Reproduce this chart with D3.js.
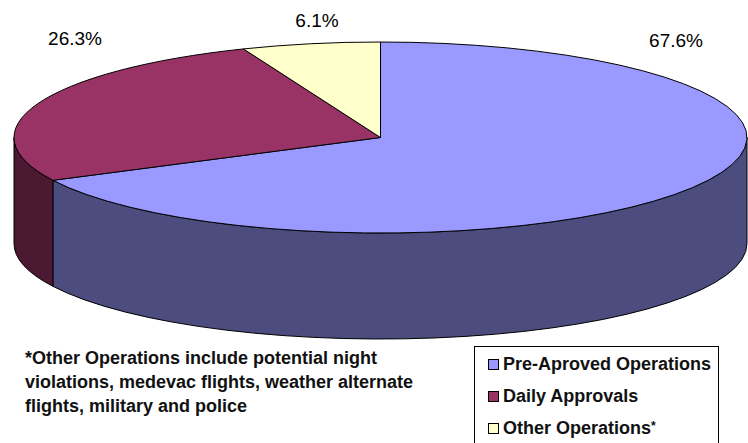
<!DOCTYPE html>
<html>
<head>
<meta charset="utf-8">
<script src="https://cdn.jsdelivr.net/npm/d3@7"></script>
<style>
  body { margin: 0; background: #fff; }
  svg { display: block; font-family: "Liberation Sans", Arial, sans-serif; }
</style>
</head>
<body>
<svg id="pie" width="748" height="443"></svg>
<script>
// data
const categories = ["Pre-Aproved Operations", "Daily Approvals", "Other Operations*"];
const shares = [67.6, 26.3, 6.1];
const topColors = ["#9999FF", "#993366", "#FFFFCC"];
const sideColors = ["#4C4C7F", "#4C1933", "#808066"];
const labelPos = [[676, 47], [75, 45], [317, 27]];
const footnote = [
  "*Other Operations include potential night",
  "violations, medevac flights, weather alternate",
  "flights, military and police"
];

const svg = d3.select("#pie");
const cx = 380.5, cy = 137.5, rx = 366.5, ry = 95.5, depth = 106;

const pie = d3.pie().sort(null).value(d => d)(shares);

const pt = (a, dy = 0) => [cx + rx * Math.sin(a), cy - ry * Math.cos(a) + dy];

// side walls (front half only)
const g = svg.append("g");
pie.forEach((s, i) => {
  const a0 = Math.max(s.startAngle, Math.PI / 2);
  const a1 = Math.min(s.endAngle, 3 * Math.PI / 2);
  if (a1 <= a0) return;
  const p0 = pt(a0), p1 = pt(a1), q1 = pt(a1, depth), q0 = pt(a0, depth);
  const path = `M${p0}A${rx},${ry} 0 0 1 ${p1}L${q1}A${rx},${ry} 0 0 0 ${q0}Z`;
  g.append("path")
    .attr("d", path)
    .attr("fill", sideColors[i])
    .attr("stroke", "#000")
    .attr("stroke-width", 1)
    .attr("stroke-linejoin", "round");
});

// top faces
pie.forEach((s, i) => {
  const p0 = pt(s.startAngle), p1 = pt(s.endAngle);
  const large = s.endAngle - s.startAngle > Math.PI ? 1 : 0;
  g.append("path")
    .attr("d", `M${cx},${cy}L${p0}A${rx},${ry} 0 ${large} 1 ${p1}Z`)
    .attr("fill", topColors[i])
    .attr("stroke", "#000")
    .attr("stroke-width", 1)
    .attr("stroke-linejoin", "round");
});

// percent labels
svg.append("g").selectAll("text")
  .data(shares)
  .join("text")
    .attr("x", (d, i) => labelPos[i][0])
    .attr("y", (d, i) => labelPos[i][1])
    .attr("text-anchor", "middle")
    .attr("font-size", "19px")
    .attr("fill", "#000")
    .text(d => d.toFixed(1) + "%");

// footnote
svg.append("g").selectAll("text")
  .data(footnote)
  .join("text")
    .attr("x", 25)
    .attr("y", (d, i) => 364 + i * 24)
    .attr("font-size", "18px")
    .attr("font-weight", "bold")
    .attr("fill", "#111")
    .text(d => d);

// legend
const legend = svg.append("g").attr("transform", "translate(474,346)");
legend.append("rect")
  .attr("x", 0.5).attr("y", 0.5)
  .attr("width", 244).attr("height", 120)
  .attr("fill", "#fff")
  .attr("stroke", "#000");

const items = legend.selectAll(".legend-item")
  .data(categories)
  .join("g")
    .attr("class", "legend-item")
    .attr("transform", (d, i) => `translate(14,${13 + i * 32})`);

items.append("rect")
  .attr("x", 0.5).attr("y", 0.5)
  .attr("width", 10).attr("height", 10)
  .attr("fill", (d, i) => topColors[i])
  .attr("stroke", "#000");

const lt = items.append("text")
  .attr("x", 15)
  .attr("y", 11)
  .attr("font-size", "18px")
  .attr("font-weight", "bold")
  .attr("fill", "#111");
lt.append("tspan").text(d => d.replace("*", ""));
lt.filter(d => d.endsWith("*"))
  .append("tspan")
    .attr("font-size", "12px")
    .attr("dy", -4)
    .text("*");
</script>
</body>
</html>
